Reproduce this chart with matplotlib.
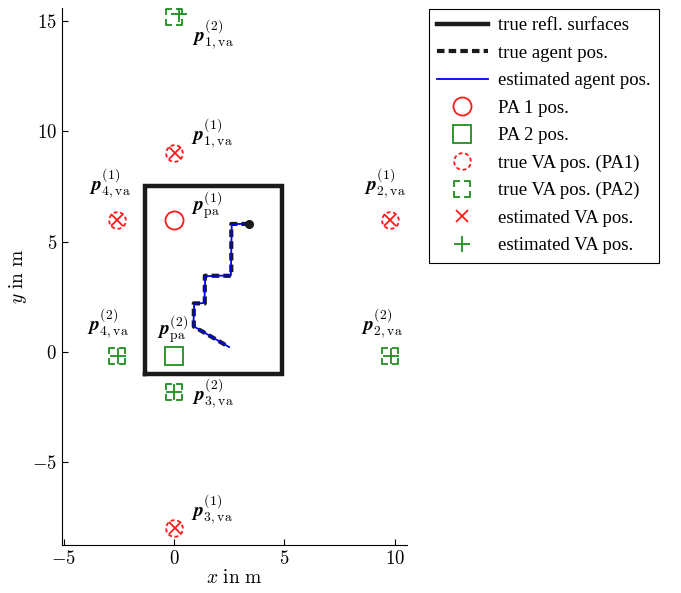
import numpy as np
import matplotlib.pyplot as plt
from matplotlib.path import Path
from matplotlib.ticker import FuncFormatter

plt.rcParams['font.family'] = ['Liberation Serif', 'DejaVu Serif']
plt.rcParams['mathtext.fontset'] = 'cm'
plt.rcParams['axes.unicode_minus'] = True

# room walls (closed polygon)
wall_x = [-1.3, 4.9, 4.9, -1.3, -1.3]
wall_y = [-1.0, -1.0, 7.5, 7.5, -1.0]

# agent trajectory
true_x = [3.4, 2.6, 2.6, 1.4, 1.4, 0.9, 0.9, 2.45]
true_y = [5.8, 5.8, 3.45, 3.45, 2.2, 2.2, 1.15, 0.25]
est_x = [3.35, 2.62, 2.58, 1.42, 1.38, 0.92, 0.88, 2.5]
est_y = [5.82, 5.78, 3.47, 3.43, 2.22, 2.18, 1.17, 0.22]

# physical anchors
pa1 = (0.0, 6.0)
pa2 = (0.0, -0.2)

# true virtual anchors, index 1..4
va1_x = [0.0, 9.8, 0.0, -2.6]
va1_y = [9.0, 6.0, -8.0, 6.0]
va2_x = [0.0, 9.8, 0.0, -2.6]
va2_y = [15.2, -0.2, -1.8, -0.2]

# estimated virtual anchors
est_va1_x = [0.05, 9.8, 0.05, -2.6]
est_va1_y = [9.0, 6.0, -8.0, 6.0]
est_va2_x = [0.25, 9.85, 0.0, -2.55]
est_va2_y = [15.3, -0.2, -1.8, -0.2]

red = '#ff1a1a'
green = '#1f8f1f'


def dashed_circle(n=8, frac=0.6):
    verts, codes = [], []
    step = 2 * np.pi / n
    for k in range(n):
        t = np.linspace(k * step, k * step + frac * step, 8)
        pts = np.column_stack([np.cos(t), np.sin(t)])
        verts.extend(pts)
        codes.extend([Path.MOVETO] + [Path.LINETO] * (len(pts) - 1))
    return Path(verts, codes)


def dashed_square(g=0.3):
    verts, codes = [], []
    for sx in (-1, 1):
        for sy in (-1, 1):
            verts += [(sx * g, sy), (sx, sy), (sx, sy * g)]
            codes += [Path.MOVETO, Path.LINETO, Path.LINETO]
    return Path(verts, codes)


fig = plt.figure(figsize=(6.81, 5.93), dpi=100)
ax = fig.add_axes([0.091, 0.081, 0.507, 0.906])

ax.plot(wall_x, wall_y, color='#1a1a1a', lw=3.2, solid_joinstyle='miter',
        label='true refl. surfaces')
ax.plot(true_x, true_y, color='#1a1a1a', lw=3, ls=(0, (1.8, 1.0)),
        label='true agent pos.')
ax.plot(est_x, est_y, color='#0000ee', lw=1.3, label='estimated agent pos.')
ax.plot(true_x[0], true_y[0], 'o', color='#1a1a1a', ms=5.5)

ax.plot(*pa1, 'o', mfc='none', mec=red, ms=13, mew=1.3, label='PA 1 pos.')
ax.plot(*pa2, 's', mfc='none', mec=green, ms=12.5, mew=1.3, label='PA 2 pos.')
ax.plot(va1_x, va1_y, ls='none', marker=dashed_circle(), mfc='none', mec=red,
        ms=12, mew=1.3, label='true VA pos. (PA1)')
ax.plot(va2_x, va2_y, ls='none', marker=dashed_square(), mfc='none', mec=green,
        ms=11, mew=1.3, label='true VA pos. (PA2)')
ax.plot(est_va1_x, est_va1_y, 'x', ls='none', color=red, ms=8, mew=1.3,
        label='estimated VA pos.')
ax.plot(est_va2_x, est_va2_y, '+', ls='none', color=green, ms=11, mew=1.3,
        label='estimated VA pos.')

# point labels, offsets in points
lab = dict(textcoords='offset points', fontsize=14)
ax.annotate(r'$\mathbfit{p}_{\mathrm{pa}}^{(1)}$', pa1, xytext=(12, -1), ha='left', va='bottom', **lab)
ax.annotate(r'$\mathbfit{p}_{\mathrm{pa}}^{(2)}$', pa2, xytext=(-1, 8), ha='center', va='bottom', **lab)
ax.annotate(r'$\mathbfit{p}_{1,\mathrm{va}}^{(1)}$', (va1_x[0], va1_y[0]), xytext=(12, 2), ha='left', va='bottom', **lab)
ax.annotate(r'$\mathbfit{p}_{2,\mathrm{va}}^{(1)}$', (va1_x[1], va1_y[1]), xytext=(-4, 13), ha='center', va='bottom', **lab)
ax.annotate(r'$\mathbfit{p}_{3,\mathrm{va}}^{(1)}$', (va1_x[2], va1_y[2]), xytext=(12, 1), ha='left', va='bottom', **lab)
ax.annotate(r'$\mathbfit{p}_{4,\mathrm{va}}^{(1)}$', (va1_x[3], va1_y[3]), xytext=(-5, 13), ha='center', va='bottom', **lab)
ax.annotate(r'$\mathbfit{p}_{1,\mathrm{va}}^{(2)}$', (va2_x[0], va2_y[0]), xytext=(13, -1), ha='left', va='top', **lab)
ax.annotate(r'$\mathbfit{p}_{2,\mathrm{va}}^{(2)}$', (va2_x[1], va2_y[1]), xytext=(-6, 11), ha='center', va='bottom', **lab)
ax.annotate(r'$\mathbfit{p}_{3,\mathrm{va}}^{(2)}$', (va2_x[2], va2_y[2]), xytext=(13, -2), ha='left', va='center', **lab)
ax.annotate(r'$\mathbfit{p}_{4,\mathrm{va}}^{(2)}$', (va2_x[3], va2_y[3]), xytext=(-6, 11), ha='center', va='bottom', **lab)

ax.set_xlim(-5, 10.5)
ax.set_ylim(-8.75, 15.6)
ax.set_aspect('equal', adjustable='datalim')
ax.set_xticks([-5, 0, 5, 10])
ax.set_yticks([-5, 0, 5, 10, 15])
tick_fmt = FuncFormatter(lambda v, pos: r'$%d$' % v)
ax.xaxis.set_major_formatter(tick_fmt)
ax.yaxis.set_major_formatter(tick_fmt)
ax.tick_params(direction='in', labelsize=13.5, length=4)
for s in ('top', 'right'):
    ax.spines[s].set_visible(False)
ax.set_xlabel(r'$x\ \mathrm{in\ m}$', fontsize=14, labelpad=1)
ax.set_ylabel(r'$y\ \mathrm{in\ m}$', fontsize=14, labelpad=2)

leg = ax.legend(loc='upper left', bbox_to_anchor=(0.630, 0.985), bbox_transform=fig.transFigure,
                borderaxespad=0, fontsize=13.5, frameon=True, fancybox=False, edgecolor='black',
                framealpha=1, handlelength=2.67, handletextpad=0.55, borderpad=0.45,
                labelspacing=0.55)
leg.get_frame().set_linewidth(0.8)

fig.savefig('out.png', dpi=100)
